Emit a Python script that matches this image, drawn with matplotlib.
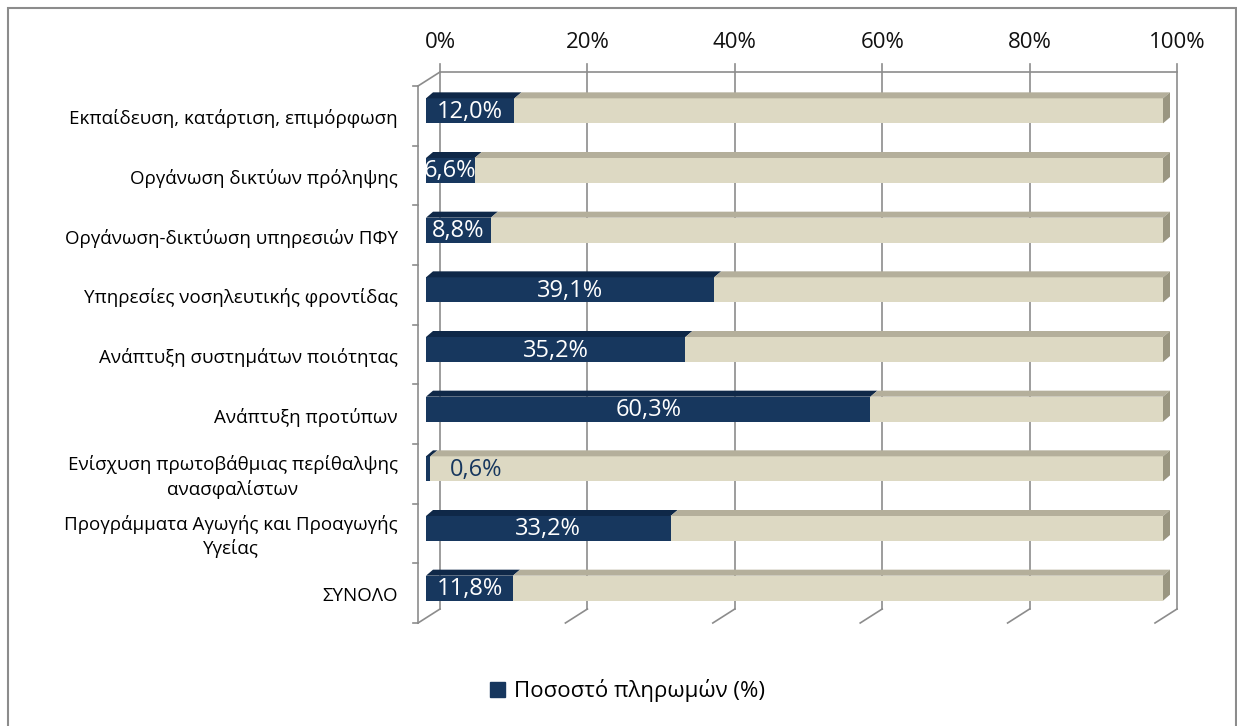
import matplotlib

matplotlib.use('Agg')

from matplotlib import pyplot as plt
from matplotlib.patches import Polygon, Rectangle, Patch

plt.rcParams['font.family'] = ['Open Sans', 'DejaVu Sans']

# data
categories = [
    'Εκπαίδευση, κατάρτιση, επιμόρφωση',
    'Οργάνωση δικτύων πρόληψης',
    'Οργάνωση-δικτύωση υπηρεσιών ΠΦΥ',
    'Υπηρεσίες νοσηλευτικής φροντίδας',
    'Ανάπτυξη συστημάτων ποιότητας',
    'Ανάπτυξη προτύπων',
    'Ενίσχυση πρωτοβάθμιας περίθαλψης\nανασφαλίστων',
    'Προγράμματα Αγωγής και Προαγωγής\nΥγείας',
    'ΣΥΝΟΛΟ',
]
paid = [12.0, 6.6, 8.8, 39.1, 35.2, 60.3, 0.6, 33.2, 11.8]
tick_values = [0, 20, 40, 60, 80, 100]
tick_labels = ['0%', '20%', '40%', '60%', '80%', '100%']
legend_label = 'Ποσοστό πληρωμών (%)'

NAVY = '#17375E'
NAVY_TOP = '#0F2848'
TAN = '#DDD9C3'
TAN_TOP = '#B4AF9B'
TAN_SIDE = '#9A9681'
GRID = '#8C8C8C'

W, H, DPI = 1237, 726, 100
fig = plt.figure(figsize=(W / DPI, H / DPI), dpi=DPI)

# front plane of the 3d box, in pixels
x0, x1, y0, y1 = 418, 1155, 86, 623
ax = fig.add_axes([x0 / W, 1 - y1 / H, (x1 - x0) / W, (y1 - y0) / H])
n = len(categories)
ax.set_xlim(0, 100)
ax.set_ylim(n - 0.5, -0.5)
ax.axis('off')

px = 100.0 / (x1 - x0)   # data x per pixel
py = n / float(y1 - y0)  # data y per pixel


def shift(x, y, dx, dy):
    # move a data point dx pixels right and dy pixels up
    return (x + dx * px, y - dy * py)


WALL = (22, 14)        # depth of the box
BAR_FRONT = (8, 5)     # bars sit inside the box
BAR_BACK = (15, 11)
bar_h = 25 * py

# back wall gridlines + floor lines
for t, lab in zip(tick_values, tick_labels):
    xb, ytop = shift(t, -0.5, *WALL)
    _, ybot = shift(t, n - 0.5, *WALL)
    ax.plot([xb, xb], [ytop - 8 * py, ybot], color=GRID, lw=1.2, clip_on=False, zorder=1)
    ax.plot([t, xb], [n - 0.5, ybot], color=GRID, lw=1.2, clip_on=False, zorder=1)
    ax.text(xb, -0.5 - 43 * py, lab, ha='center', va='center', fontsize=16, color='#111111')

# top edge of back wall, left wall
xa, ya = shift(0, -0.5, *WALL)
xz, _ = shift(100, -0.5, *WALL)
ax.plot([xa, xz], [ya, ya], color=GRID, lw=1.2, clip_on=False, zorder=1)
ax.plot([0, 0], [-0.5, n - 0.5], color=GRID, lw=1.2, clip_on=False, zorder=1)
ax.plot([0, xa], [-0.5, ya], color=GRID, lw=1.2, clip_on=False, zorder=1)
for k in range(n + 1):
    ax.plot([-5 * px, 0], [k - 0.5, k - 0.5], color=GRID, lw=1.2, clip_on=False, zorder=1)

# category labels
for i, c in enumerate(categories):
    ax.text(-20 * px, i + 3 * py, c, ha='right', va='center', multialignment='center',
            fontsize=13.5, color='black', linespacing=1.4)

# bars
ys = [i - BAR_FRONT[1] * py for i in range(n)]
rest = [100 - v for v in paid]
left0 = BAR_FRONT[0] * px
ax.barh(ys, paid, height=bar_h, left=left0, color=NAVY, zorder=3, clip_on=False)
ax.barh(ys, rest, height=bar_h, left=[left0 + v for v in paid], color=TAN, zorder=3,
        clip_on=False)

for i, v in enumerate(paid):
    yt = ys[i] - bar_h / 2 + BAR_FRONT[1] * py
    yb = ys[i] + bar_h / 2 + BAR_FRONT[1] * py
    for a, b, col in [(0, v, NAVY_TOP), (v, 100, TAN_TOP)]:
        pts = [shift(a, yt, *BAR_FRONT), shift(b, yt, *BAR_FRONT),
               shift(b, yt, *BAR_BACK), shift(a, yt, *BAR_BACK)]
        ax.add_patch(Polygon(pts, closed=True, fc=col, ec='none', zorder=3, clip_on=False))
    side = [shift(100, yt, *BAR_FRONT), shift(100, yt, *BAR_BACK),
            shift(100, yb, *BAR_BACK), shift(100, yb, *BAR_FRONT)]
    ax.add_patch(Polygon(side, closed=True, fc=TAN_SIDE, ec='none', zorder=3, clip_on=False))

    lab = ('%.1f%%' % v).replace('.', ',')
    yc = ys[i] + 1 * py
    if v < 3:
        ax.text(left0 + v + 2.6, yc, lab, ha='left', va='center', fontsize=17, color=NAVY, zorder=5)
    else:
        ax.text(left0 + v / 2, yc, lab, ha='center', va='center', fontsize=17, color='white', zorder=5)

# legend
fig.legend(handles=[Patch(color=NAVY, label=legend_label)], loc='center',
           bbox_to_anchor=(627 / W, 1 - 691 / H), frameon=False, fontsize=16,
           handlelength=0.68, handleheight=0.68, handletextpad=0.4)

# outer frame
fig.patches.append(Rectangle((8 / W, -0.1), (1235.5 - 8) / W, 1 - 8 / H + 0.1,
                             transform=fig.transFigure, fill=False, ec=GRID, lw=1.5))

plt.savefig('out.png', dpi=DPI)
